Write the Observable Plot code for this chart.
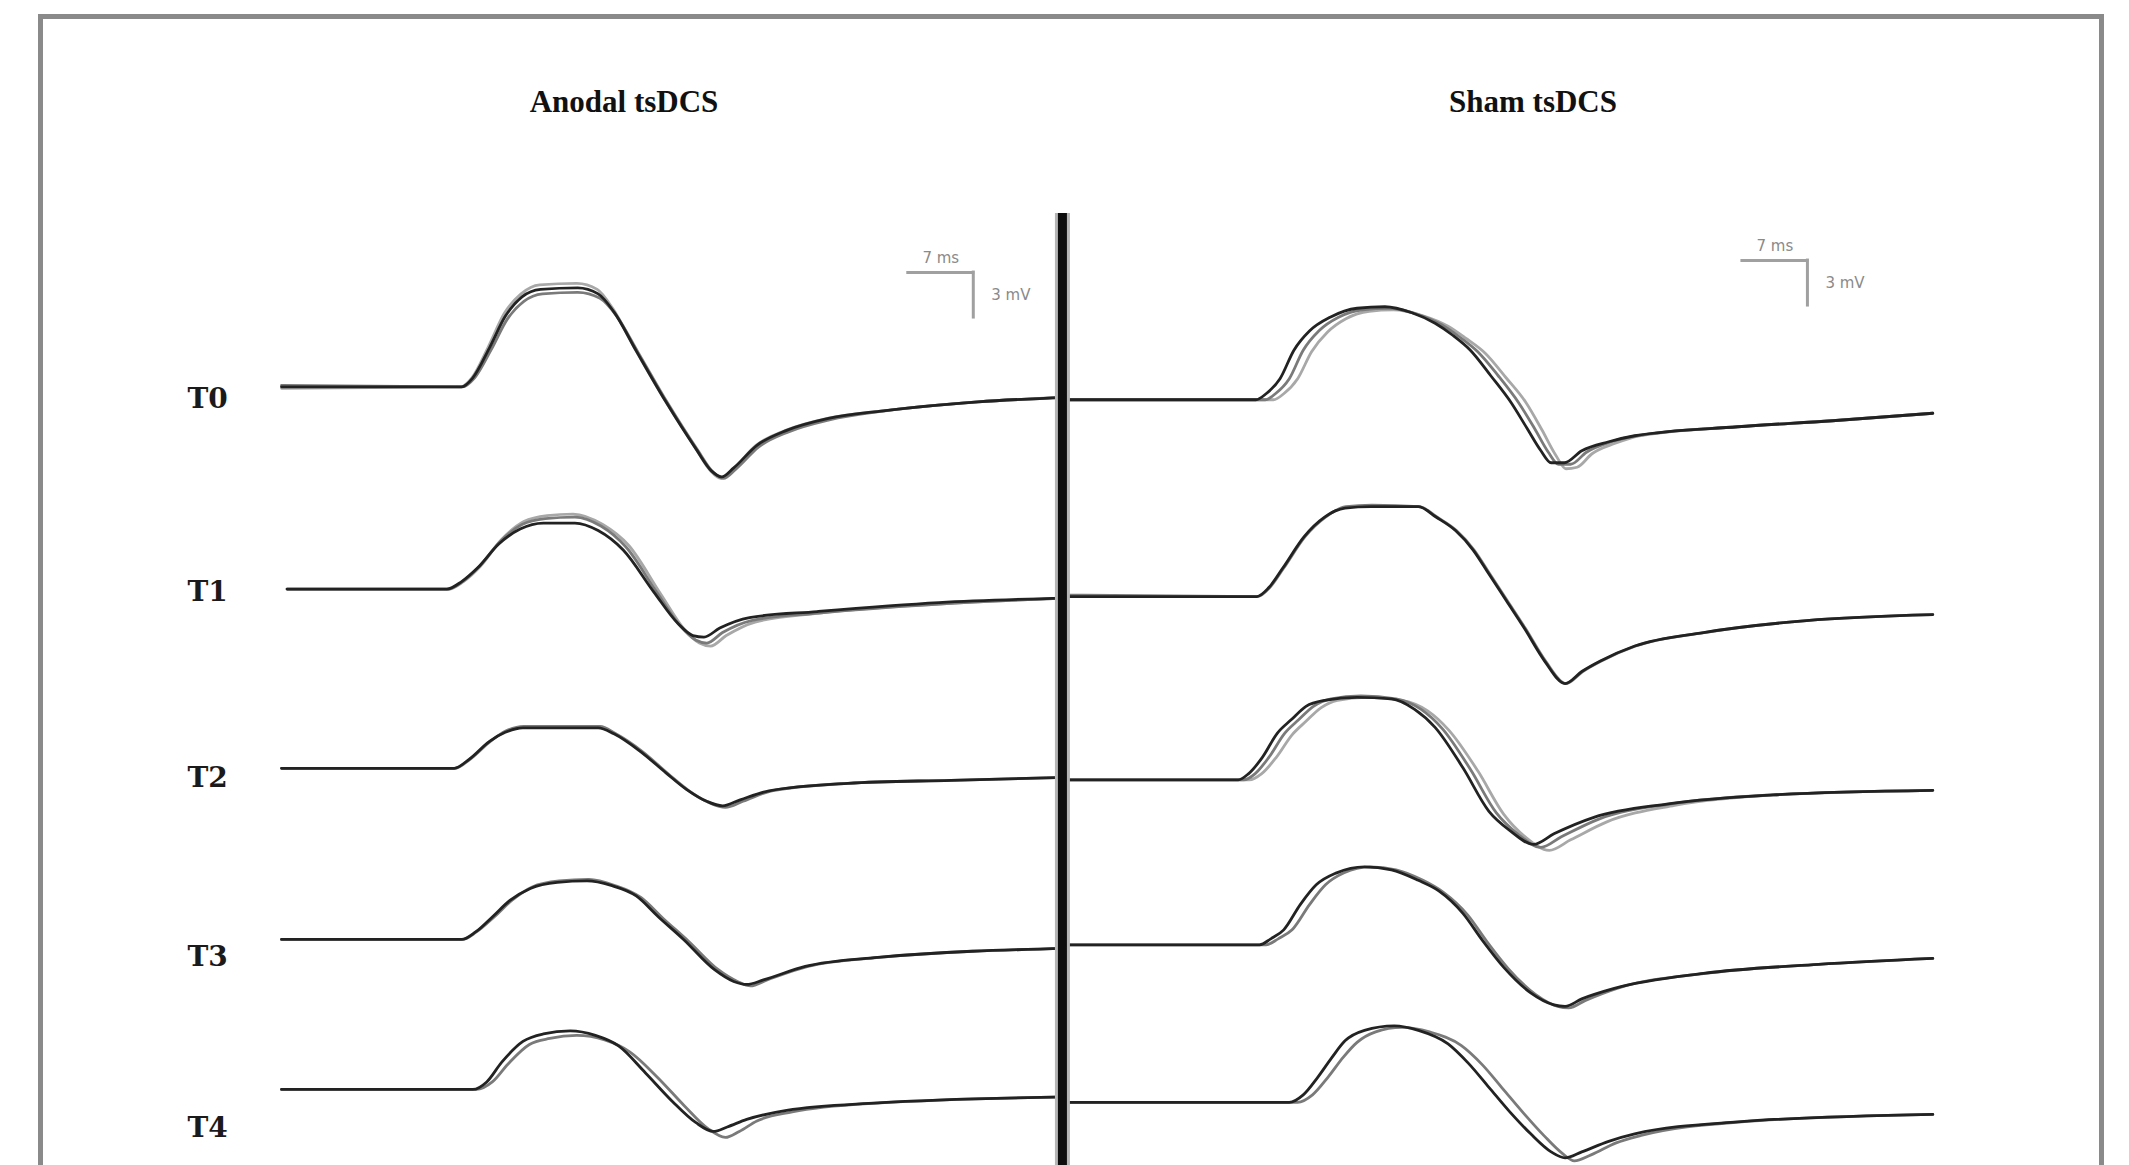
<!DOCTYPE html>
<html><head><meta charset="utf-8">
<script src="https://cdn.jsdelivr.net/npm/d3@7"></script>
<script src="https://cdn.jsdelivr.net/npm/@observablehq/plot@0.6"></script>
<style>
html,body{margin:0;padding:0;background:#fff;width:2129px;height:1165px;overflow:hidden;}
#frame{position:absolute;left:38px;top:14px;width:2066px;height:1300px;box-sizing:border-box;border:5px solid #8a8a8a;border-bottom:none;}
.title{position:absolute;top:86px;font-family:"Liberation Serif","Times New Roman",serif;font-weight:bold;font-size:31px;line-height:31px;transform:translateX(-50%);white-space:nowrap;color:#111;}
.panel{position:absolute;top:0;}
.panel svg{max-width:none !important;overflow:visible;}
</style></head><body>
<div id="frame"></div>
<div id="t0" class="title" style="left:624px"></div>
<div id="t1" class="title" style="left:1533px"></div>
<div id="left" class="panel" style="left:150px"></div>
<div id="right" class="panel" style="left:1040px"></div>
<script>
// ---------- data (time in ms from sweep start, amplitude in mV relative to each row's baseline) ----------
const panels = ["Anodal tsDCS", "Sham tsDCS"];
const timepoints = ["T0", "T1", "T2", "T3", "T4"];

// baseline level of each row on the stacked mV axis
const anodalBaselines = [51.91, 38.43, 26.48, 15.07, 5.07];
const shamBaselines = [51.05, 37.93, 25.71, 14.71, 4.21];
const labelLevels = [51.07, 38.2, 25.8, 13.87, 2.53];

// calibration bars: 7 ms / 3 mV, corner [ms, mV]
const scaleBarMs = 7;
const scaleBarMv = 3;
const anodalBarCorner = [74.5, 59.53];
const shamBarCorner = [79.9, 60.33];
const anodalSweepEnd = 84.1;
const dividerTop = 63.47;

const anodalT0 = [
  [[0,0],[19.4,0],[20.6,0.6],[22.4,2.6],[24.1,4.7],[25.9,6.0],[27.9,6.5],[31.9,6.6],[34.1,6.2],[35.8,5.0],[38.2,2.4],[41.4,-1.0],[44.6,-4.1],[46.3,-5.6],[47.4,-6.0],[48.7,-5.4],[51.2,-3.9],[54.4,-2.9],[58.9,-2.1],[64.8,-1.6],[75.0,-1.0],[84.5,-0.7]],
  [[0,0.1],[19.5,0],[20.8,0.6],[22.6,2.5],[24.3,4.5],[26.1,5.7],[28.1,6.2],[31.9,6.3],[34.3,5.9],[36.0,4.8],[38.4,2.3],[41.6,-1.1],[44.8,-4.2],[46.5,-5.7],[47.6,-6.1],[48.9,-5.5],[51.4,-4.0],[54.6,-3.0],[59.0,-2.2],[65.0,-1.6],[75.0,-1.0],[84.5,-0.7]],
  [[0,-0.1],[19.3,0],[20.5,0.6],[22.3,2.7],[24.0,4.9],[25.8,6.2],[27.8,6.8],[31.8,6.9],[34.0,6.5],[35.7,5.2],[38.1,2.5],[41.3,-0.9],[44.5,-4.0],[46.2,-5.6],[47.3,-6.1],[48.6,-5.5],[51.1,-3.9],[54.3,-2.9],[58.8,-2.1],[64.8,-1.6],[75.0,-1.0],[84.5,-0.7]]
];
const anodalT1 = [
  [[0.6,0],[17.8,0],[19.4,0.5],[21.1,1.4],[23.4,3.0],[25.7,4.0],[28.2,4.4],[31.6,4.4],[34.1,3.9],[36.8,2.6],[40.1,-0.2],[42.7,-2.3],[44.3,-3.1],[45.5,-3.2],[47.2,-2.6],[50.4,-1.9],[57.7,-1.5],[70.8,-0.9],[84.5,-0.6]],
  [[0.6,0],[17.9,0],[19.5,0.5],[21.3,1.5],[23.6,3.2],[25.9,4.3],[28.4,4.7],[31.6,4.8],[34.4,4.2],[37.1,2.8],[40.4,-0.2],[43.0,-2.5],[44.6,-3.4],[45.8,-3.6],[47.5,-2.9],[50.6,-2.1],[57.8,-1.6],[70.8,-1.0],[84.5,-0.6]],
  [[0.6,0],[18.0,0],[19.6,0.5],[21.4,1.5],[23.7,3.3],[26.1,4.5],[28.6,4.9],[31.4,5.0],[34.6,4.3],[37.4,2.9],[40.8,-0.3],[43.4,-2.7],[45.0,-3.6],[46.2,-3.8],[47.9,-3.1],[51.0,-2.2],[58.0,-1.6],[70.8,-1.0],[84.5,-0.6]]
];
const anodalT2 = [
  [[0,0],[18.6,0],[20.2,0.6],[22.4,1.8],[24.1,2.4],[26.0,2.7],[34.1,2.7],[35.8,2.3],[38.7,1.1],[41.4,-0.3],[43.6,-1.4],[45.8,-2.2],[47.5,-2.5],[49.4,-2.1],[52.5,-1.5],[61.0,-1.0],[72.1,-0.8],[84.5,-0.6]],
  [[0,0],[18.7,0],[20.3,0.6],[22.5,1.8],[24.2,2.5],[26.1,2.8],[34.3,2.8],[36.0,2.3],[38.9,1.1],[41.7,-0.4],[43.9,-1.5],[46.1,-2.3],[47.8,-2.6],[49.7,-2.2],[52.8,-1.5],[61.0,-1.0],[72.1,-0.8],[84.5,-0.6]]
];
const anodalT3 = [
  [[0,0],[19.4,0],[20.9,0.5],[22.7,1.5],[24.6,2.6],[26.8,3.4],[29.7,3.8],[32.9,3.9],[35.5,3.6],[38.2,2.9],[40.6,1.5],[43.3,0],[46.6,-2.0],[48.7,-2.8],[50.1,-3.0],[51.9,-2.7],[56.4,-1.8],[64.2,-1.2],[84.5,-0.6]],
  [[0,0],[19.5,0],[21.0,0.5],[22.9,1.5],[24.8,2.6],[27.0,3.5],[29.9,3.9],[33.1,4.0],[35.9,3.6],[38.7,2.8],[41.1,1.4],[43.8,-0.1],[47.0,-2.0],[49.1,-2.8],[50.5,-3.1],[52.3,-2.7],[56.7,-1.8],[64.4,-1.2],[84.5,-0.6]]
];
const anodalT4 = [
  [[0,0],[20.6,0],[22.1,0.5],[23.7,1.8],[26.0,3.2],[28.2,3.7],[31.1,3.9],[33.8,3.6],[36.3,2.9],[39.2,1.1],[42.1,-0.8],[44.6,-2.2],[46.5,-2.8],[48.0,-2.5],[50.1,-2.0],[54.4,-1.4],[64.2,-0.9],[84.5,-0.5]],
  [[0,0],[21.0,0],[22.7,0.5],[24.4,1.7],[26.7,3.0],[28.9,3.4],[31.8,3.6],[34.8,3.3],[37.5,2.5],[40.5,0.8],[43.4,-1.1],[45.9,-2.6],[47.8,-3.2],[49.3,-2.8],[51.2,-2.1],[55.0,-1.5],[64.5,-0.9],[84.5,-0.5]]
];

const shamT0 = [
  [[0,0],[20.5,0],[21.6,0.4],[23.1,1.4],[24.6,3.3],[26.3,4.6],[28.5,5.5],[31.4,6.1],[34.4,6.2],[37.3,5.8],[39.8,5.1],[41.7,4.3],[43.6,3.3],[45.8,1.6],[48.0,-0.2],[49.7,-1.9],[51.2,-3.4],[52.3,-4.2],[53.7,-4.2],[55.6,-3.4],[58.5,-2.8],[61.3,-2.4],[72.4,-1.8],[82.6,-1.4],[93.4,-0.9]],
  [[0,0],[21.5,0],[22.6,0.4],[24.1,1.4],[25.6,3.3],[27.3,4.6],[29.4,5.5],[32.0,6.0],[34.8,6.1],[37.9,5.7],[40.5,5.0],[42.4,4.2],[44.4,3.2],[46.6,1.6],[48.8,-0.2],[50.5,-1.9],[52.0,-3.5],[53.1,-4.3],[54.4,-4.3],[56.1,-3.5],[58.8,-2.8],[61.5,-2.4],[72.4,-1.8],[82.6,-1.4],[93.4,-0.9]],
  [[0,0],[22.4,0],[23.5,0.4],[25.0,1.4],[26.5,3.2],[28.2,4.5],[30.2,5.4],[32.7,5.9],[35.3,6.0],[38.5,5.6],[41.2,4.9],[43.1,4.1],[45.2,3.1],[47.4,1.5],[49.6,-0.2],[51.3,-2.0],[52.8,-3.7],[53.9,-4.6],[55.1,-4.5],[56.7,-3.6],[59.2,-2.9],[61.8,-2.4],[72.4,-1.8],[82.6,-1.4],[93.4,-0.9]]
];
const shamT1 = [
  [[0,0],[20.6,0],[21.9,0.6],[23.4,1.9],[25.7,4.0],[27.9,5.3],[30.1,5.9],[32.9,6.0],[38.0,6.0],[39.9,5.3],[42.0,4.4],[43.9,3.1],[45.6,1.5],[47.5,-0.3],[49.4,-2.1],[51.6,-4.3],[53.8,-5.8],[55.6,-5.0],[57.6,-4.3],[61.3,-3.3],[68.7,-2.4],[79.8,-1.6],[93.4,-1.2]],
  [[0,0.1],[20.7,0],[22.0,0.6],[23.5,1.9],[25.8,4.0],[28.0,5.3],[30.2,6.0],[33.0,6.1],[38.1,6.0],[40.0,5.3],[42.1,4.4],[44.0,3.1],[45.7,1.5],[47.6,-0.3],[49.5,-2.1],[51.7,-4.3],[53.9,-5.8],[55.7,-5.0],[57.7,-4.3],[61.4,-3.3],[68.8,-2.4],[79.8,-1.6],[93.4,-1.2]]
];
const shamT2 = [
  [[0,0],[18.6,0],[19.7,0.4],[21.2,1.5],[22.8,3.1],[24.3,4.0],[25.9,4.9],[27.9,5.3],[31.4,5.5],[35.1,5.4],[37.6,4.7],[39.8,3.5],[42.8,0.8],[45.6,-2.1],[47.9,-3.4],[50.4,-4.3],[52.6,-3.6],[56.9,-2.5],[64.9,-1.6],[76.2,-1.0],[93.4,-0.7]],
  [[0,0],[19.2,0],[20.4,0.4],[21.9,1.5],[23.6,3.1],[25.1,4.0],[26.7,4.9],[28.6,5.4],[31.8,5.6],[35.6,5.4],[38.3,4.7],[40.6,3.4],[43.6,0.7],[46.4,-2.2],[48.7,-3.6],[51.2,-4.5],[53.4,-3.8],[57.5,-2.6],[65.2,-1.6],[76.2,-1.0],[93.4,-0.7]],
  [[0,0],[19.8,0],[21.1,0.4],[22.7,1.5],[24.4,3.0],[25.9,3.9],[27.5,4.8],[29.3,5.3],[32.4,5.5],[36.2,5.3],[39.0,4.6],[41.3,3.3],[44.4,0.6],[47.2,-2.3],[49.5,-3.8],[52.1,-4.7],[54.4,-4.0],[58.3,-2.8],[65.6,-1.7],[76.4,-1.0],[93.4,-0.7]]
];
const shamT3 = [
  [[0,0],[20.9,0],[22.1,0.4],[23.5,1.0],[25.3,2.7],[27.0,4.0],[29.2,4.8],[32.2,5.2],[35.1,5.0],[38.0,4.3],[40.2,3.6],[42.8,2.1],[44.9,0.3],[47.2,-1.5],[50.1,-3.2],[52.6,-4.0],[53.8,-4.1],[55.6,-3.6],[59.1,-2.9],[68.7,-1.9],[81.1,-1.3],[93.4,-0.9]],
  [[0,0],[21.6,0],[22.9,0.4],[24.4,1.0],[26.3,2.7],[28.0,4.0],[30.0,4.8],[32.8,5.2],[35.6,5.0],[38.5,4.3],[40.7,3.5],[43.3,2.0],[45.4,0.2],[47.7,-1.6],[50.6,-3.3],[53.0,-4.1],[54.2,-4.2],[56.0,-3.7],[59.4,-2.9],[68.9,-1.9],[81.1,-1.3],[93.4,-0.9]]
];
const shamT4 = [
  [[0,0],[24.1,0],[25.6,0.5],[27.2,1.7],[28.7,3.0],[30.1,4.1],[32.2,4.8],[35.4,5.1],[38.0,4.8],[41.2,3.9],[43.4,2.6],[45.6,1.0],[47.8,-0.6],[50.1,-2.1],[52.3,-3.3],[53.8,-3.7],[55.6,-3.3],[58.5,-2.6],[61.3,-2.1],[72.4,-1.3],[93.4,-0.8]],
  [[0,0],[25.0,0],[26.6,0.5],[28.3,1.7],[29.9,3.0],[31.4,4.0],[33.4,4.7],[36.2,5.0],[39.2,4.7],[42.6,3.8],[44.9,2.5],[47.1,0.9],[49.3,-0.7],[51.5,-2.2],[53.5,-3.4],[54.8,-3.9],[56.6,-3.5],[59.3,-2.7],[62.0,-2.2],[72.8,-1.3],[93.4,-0.8]]
];

// ---------- drawing ----------
const PX_PER_MS = 65 / 7;   // calibration bar: 7 ms = 65 px
const PX_PER_MV = 15;       // calibration bar: 3 mV = 45 px
const H = 1165;
const tones = ["#222222", "#7a7a7a", "#a8a8a8"];

function flatten(traces, baselines) {
  const out = [];
  traces.forEach((tr, r) => tr.forEach((pts, k) => pts.forEach(([t, v]) =>
    out.push({row: timepoints[r], k, key: r + "-" + k, t, y: baselines[r] + v}))));
  return out;
}

function panel({traces, baselines, corner, marginLeft, width, xmax, extra}) {
  const data = flatten(traces, baselines);
  const lines = [2, 1, 0].map(k => Plot.line(data.filter(d => d.k === k),
    {x: "t", y: "y", z: "key", stroke: tones[k], strokeWidth: 2.8, curve: "monotone-x"}));
  const bar = [
    Plot.ruleY([corner], {x1: d => d[0] - scaleBarMs, x2: d => d[0], y: d => d[1], stroke: "#a0a0a0", strokeWidth: 3, strokeLinecap: "square"}),
    Plot.ruleX([corner], {x: d => d[0], y1: d => d[1] - scaleBarMv, y2: d => d[1], stroke: "#a0a0a0", strokeWidth: 3, strokeLinecap: "square"}),
    Plot.text([corner], {x: d => d[0] - scaleBarMs / 2, y: d => d[1], text: () => `${scaleBarMs} ms`, dy: -14, fontSize: 15, fill: "#8a8a8a", fontFamily: "DejaVu Sans, sans-serif"}),
    Plot.text([corner], {x: d => d[0], y: d => d[1] - scaleBarMv / 2, text: () => `${scaleBarMv} mV`, dx: 18, textAnchor: "start", fontSize: 15, fill: "#8a8a8a", fontFamily: "DejaVu Sans, sans-serif"})
  ];
  return Plot.plot({
    width, height: H,
    marginLeft, marginRight: 0, marginTop: 0, marginBottom: 0,
    x: {domain: [0, xmax], range: [marginLeft, marginLeft + xmax * PX_PER_MS], axis: null},
    y: {domain: [0, H / PX_PER_MV], axis: null},
    style: {background: "transparent", overflow: "visible"},
    marks: [...(extra || []), ...lines, ...bar]
  });
}

document.getElementById("t0").textContent = panels[0];
document.getElementById("t1").textContent = panels[1];

const leftPlot = panel({
  traces: [anodalT0, anodalT1, anodalT2, anodalT3, anodalT4],
  baselines: anodalBaselines, corner: anodalBarCorner,
  marginLeft: 131, width: 940, xmax: 88,
  extra: [
    Plot.text(timepoints, {frameAnchor: "left", dx: -94, y: (d, i) => labelLevels[i], text: d => d,
      textAnchor: "start", fontFamily: "DejaVu Serif, serif", fontWeight: "bold", fontSize: 28, fill: "#1a1a1a"})
  ]
});
document.getElementById("left").appendChild(leftPlot);

const rightPlot = panel({
  traces: [shamT0, shamT1, shamT2, shamT3, shamT4],
  baselines: shamBaselines, corner: shamBarCorner,
  marginLeft: 25, width: 1089, xmax: 100
});
document.getElementById("right").appendChild(rightPlot);

// divider drawn on top, at the end of the anodal sweep
const divider = Plot.plot({
  width: 940, height: H, marginLeft: 131, marginRight: 0, marginTop: 0, marginBottom: 0,
  x: {domain: [0, 88], range: [131, 131 + 88 * PX_PER_MS], axis: null},
  y: {domain: [0, H / PX_PER_MV], axis: null},
  style: {background: "transparent", overflow: "visible"},
  marks: [
    Plot.ruleX([anodalSweepEnd], {y1: 0, y2: dividerTop, stroke: "#b5b5b5", strokeWidth: 15}),
    Plot.ruleX([anodalSweepEnd], {y1: 0, y2: dividerTop, stroke: "#0d0d0d", strokeWidth: 9})
  ]
});
const dwrap = document.createElement("div");
dwrap.className = "panel";
dwrap.style.left = "150px";
dwrap.appendChild(divider);
document.body.appendChild(dwrap);
</script>
</body></html>
